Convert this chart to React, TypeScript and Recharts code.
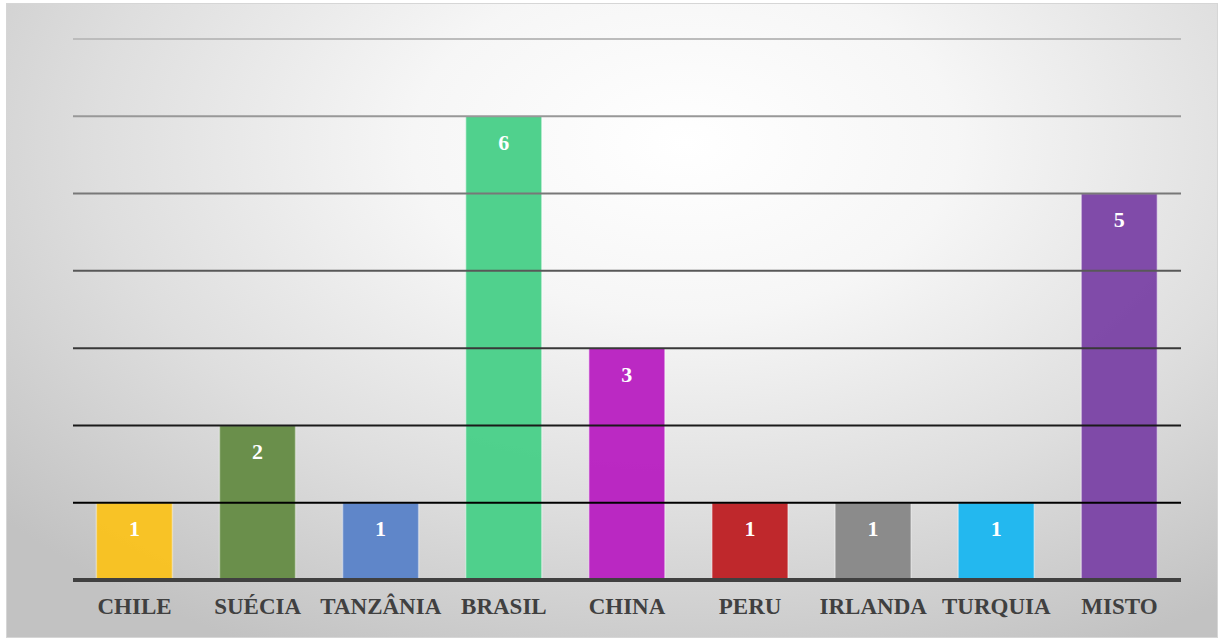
import { BarChart, Bar, XAxis, YAxis, ReferenceLine, LabelList, Cell } from 'recharts';

// Countries and counts
const countries = ['CHILE', 'SUÉCIA', 'TANZÂNIA', 'BRASIL', 'CHINA', 'PERU', 'IRLANDA', 'TURQUIA', 'MISTO'];
const counts = [1, 2, 1, 6, 3, 1, 1, 1, 5];
const barColors = ['#f9c220', '#668c46', '#5b83c8', '#4acf89', '#b922c1', '#be2226', '#888888', '#1db7ef', '#7c45a6'];

// Horizontal grid values and their shades (lighter toward the top)
const gridValues = [1, 2, 3, 4, 5, 6, 7];
const gridColors = ['#000000', '#1a1a1a', '#383838', '#585858', '#787878', '#989898', '#bcbcbc'];

const data = countries.map((name, i) => ({ name, value: counts[i] }));

const serif = '"Liberation Serif", "Times New Roman", serif';

export default function App() {
  return (
    <div
      style={{
        position: 'absolute',
        left: 6,
        top: 3,
        width: 1212,
        height: 635,
        boxSizing: 'border-box',
        border: '1px solid #d6d6d6',
        background: 'radial-gradient(ellipse 75% 90% at 56% 22%, #ffffff 0%, #f6f6f6 30%, #dedede 65%, #c2c2c2 100%)',
      }}
    >
      <BarChart
        width={1212}
        height={635}
        data={data}
        margin={{ top: 36, right: 37, left: 67, bottom: 4 }}
        barCategoryGap="19%"
        style={{ position: 'absolute', left: -1, top: -1 }}
      >
        <YAxis hide domain={[0, 7]} ticks={[0, ...gridValues]} />
        {gridValues.map((v, i) => (
          <ReferenceLine key={v} y={v} stroke={gridColors[i]} strokeWidth={2} ifOverflow="extendDomain" />
        ))}
        <XAxis
          dataKey="name"
          height={54}
          tickLine={false}
          axisLine={{ stroke: '#404040', strokeWidth: 4 }}
          tick={{ fill: '#404040', fontSize: 23, fontWeight: 'bold', fontFamily: serif }}
          tickMargin={12}
          interval={0}
        />
        <Bar dataKey="value" isAnimationActive={false} fillOpacity={0.97} strokeWidth={1.5}>
          {data.map((d, i) => (
            <Cell key={d.name} fill={barColors[i]} stroke="#ffffff" strokeOpacity={0.4} />
          ))}
          <LabelList
            dataKey="value"
            position="insideTop"
            offset={18}
            style={{ fill: '#ffffff', fontSize: 22, fontWeight: 'bold', fontFamily: serif }}
          />
        </Bar>
      </BarChart>
    </div>
  );
}
